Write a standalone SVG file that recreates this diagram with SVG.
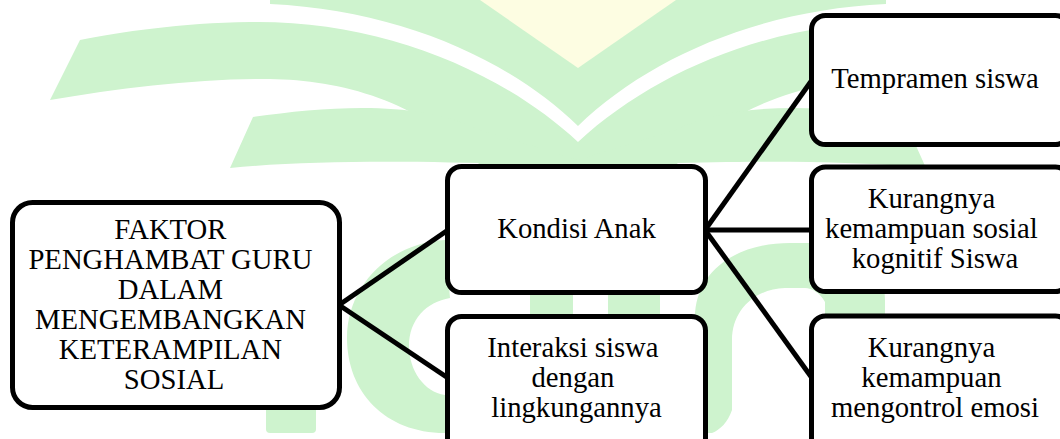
<svg xmlns="http://www.w3.org/2000/svg" width="1060" height="439" viewBox="0 0 1060 439">
  <style>
    .wm { fill: #cef3ce; }
    .wy { fill: #fdfde2; }
    .box { fill: #ffffff; stroke: #000000; stroke-width: 5; }
    .conn { stroke: #000000; stroke-width: 5; fill: none; stroke-linecap: butt; }
    .lbl { font-family: "Liberation Serif", "Times New Roman", serif; font-size: 28.7px; fill: #000000; text-anchor: middle; }
  </style>
  <defs>
    <g id="arm">
      <path class="wm" d="M270,0 L578,0 L578,126 C510,60 400,10 270,4 Z"/>
      <path class="wm" d="M578,142 C500,70 380,20 250,22 C180,23 120,32 80,40 L50,100 C120,88 200,78 270,79 C340,80 420,100 480,165 L578,166 Z"/>
      <path class="wm" d="M253,117 C330,106 420,100 480,130 L578,160 L578,167 C480,162 330,158 230,168 Z"/>
    </g>
  </defs>
  <rect width="1060" height="439" fill="#ffffff"/>
  <g id="watermark">
    <use href="#arm"/>
    <use href="#arm" transform="matrix(-1 0 0 1 1156 0)"/>
    <path class="wy" d="M480,0 L676,0 L578,68 Z"/>
    <path class="wm" d="M445,240 C390,243 347,285 347,338 C347,392 385,433 445,433 L445,395 C424,392 409,370 409,346 C409,320 426,302 450,298 Z"/>
    <rect class="wm" x="266" y="395" width="50" height="38" rx="4"/>
    <path class="wm" d="M700,433 L695,318 C695,272 735,243 790,243 L835,243 C865,243 885,268 885,300 L885,340 L825,340 L825,302 C820,293 812,288 805,288 L785,288 C755,289 732,310 732,340 L732,410 C728,422 720,430 712,433 Z"/>
    <rect class="wm" x="530" y="285" width="43" height="40"/>
    <rect class="wm" x="608" y="285" width="52" height="40"/>
  </g>
  <g id="connectors">
    <line class="conn" x1="339" y1="305" x2="448" y2="230"/>
    <line class="conn" x1="339" y1="305" x2="448" y2="378"/>
    <line class="conn" x1="705" y1="230" x2="812" y2="80"/>
    <line class="conn" x1="705" y1="230" x2="812" y2="230"/>
    <line class="conn" x1="705" y1="230" x2="812" y2="378"/>
  </g>
  <g id="root">
    <rect class="box" x="12.5" y="202.5" width="327" height="205" rx="20"/>
    <text class="lbl">
      <tspan x="174" y="239">FAKTOR</tspan>
      <tspan x="174" y="269">PENGHAMBAT GURU</tspan>
      <tspan x="174" y="299">DALAM</tspan>
      <tspan x="174" y="329">MENGEMBANGKAN</tspan>
      <tspan x="174" y="359">KETERAMPILAN</tspan>
      <tspan x="174" y="389">SOSIAL</tspan>
    </text>
  </g>
  <g id="kondisi">
    <rect class="box" x="447.5" y="166.5" width="258" height="126" rx="14"/>
    <text class="lbl" x="576.5" y="238">Kondisi Anak</text>
  </g>
  <g id="interaksi">
    <rect class="box" x="447.5" y="316.5" width="258" height="150" rx="14"/>
    <text class="lbl">
      <tspan x="576.5" y="357">Interaksi siswa</tspan>
      <tspan x="576.5" y="387">dengan</tspan>
      <tspan x="576.5" y="417">lingkungannya</tspan>
    </text>
  </g>
  <g id="tempramen">
    <rect class="box" x="811.5" y="15.5" width="258" height="129" rx="14"/>
    <text class="lbl" x="935" y="88">Tempramen siswa</text>
  </g>
  <g id="kognitif">
    <rect class="box" x="811.5" y="167" width="258" height="124.5" rx="14"/>
    <text class="lbl">
      <tspan x="935" y="208">Kurangnya</tspan>
      <tspan x="935" y="238">kemampuan sosial</tspan>
      <tspan x="935" y="268">kognitif Siswa</tspan>
    </text>
  </g>
  <g id="emosi">
    <rect class="box" x="811.5" y="316" width="258" height="150" rx="14"/>
    <text class="lbl">
      <tspan x="935" y="357">Kurangnya</tspan>
      <tspan x="935" y="387">kemampuan</tspan>
      <tspan x="935" y="417">mengontrol emosi</tspan>
    </text>
  </g>
</svg>
